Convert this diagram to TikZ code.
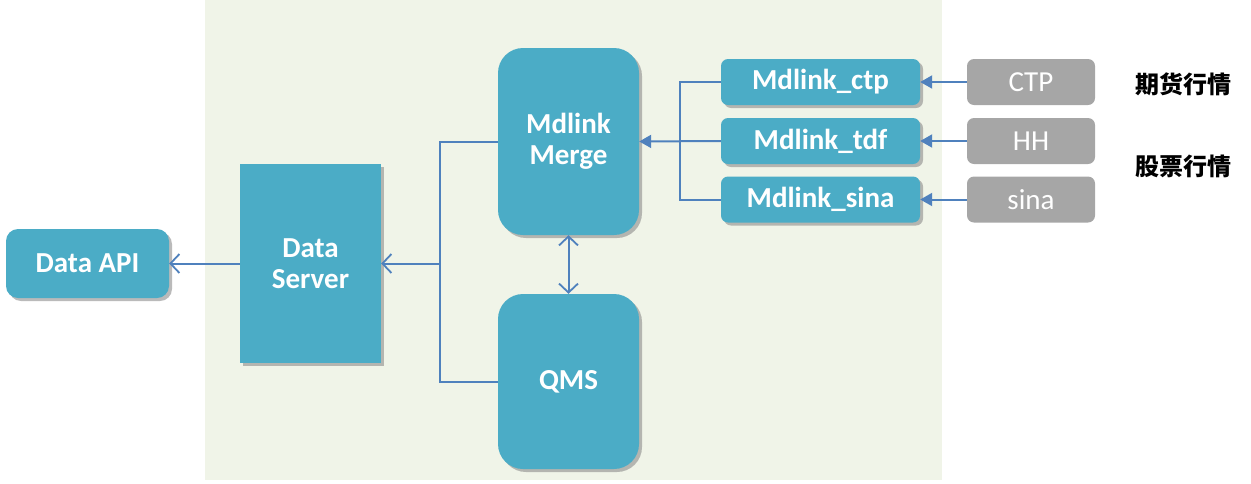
\documentclass[tikz,border=0pt]{standalone}
\usepackage{fontspec}
\setmainfont{Carlito}
\newfontfamily\cjk{Noto Sans CJK SC}
\usepackage{tikz}
\usetikzlibrary{arrows.meta,shadows}

\definecolor{boxteal}{HTML}{4BACC6}
\definecolor{linkblue}{HTML}{4F81BD}
\definecolor{srcgrey}{HTML}{A6A6A6}
\definecolor{panelbg}{HTML}{F0F4E8}

\tikzset{
	block/.style={fill=boxteal,text=white,font=\fontsize{29}{31}\selectfont\bfseries,
		align=center,inner sep=0pt,
		drop shadow={shadow xshift=3pt,shadow yshift=-3pt,fill=black!45,opacity=0.6}},
	srcbox/.style={fill=srcgrey,text=white,font=\fontsize{29}{31}\selectfont,
		rounded corners=7pt,minimum width=128pt,minimum height=46pt,inner sep=0pt},
	wire/.style={draw=linkblue,line width=2pt},
	openarrow/.style={wire,-{Straight Barb[length=9pt,width=19pt,line width=1.8pt]}},
	openboth/.style={wire,{Straight Barb[length=9pt,width=19pt,line width=1.8pt]}-{Straight Barb[length=9pt,width=19pt,line width=1.8pt]}},
	fillarrow/.style={wire,-{Triangle[length=12pt,width=13pt]}},
}

\begin{document}
\begin{tikzpicture}[x=1pt,y=-1pt]
		\useasboundingbox (0,0) rectangle (1251,483);
%		\draw[help lines,step=50] (0,0) grid (1251,483);
		\fill[panelbg] (205,0) rectangle (942,480);

		\path (87.5,263.5) coordinate (api_c);
		\path (310.5,263.5) coordinate (server_c);
		\path (568.5,141.5) coordinate (merge_c);
		\path (568.5,381.5) coordinate (qms_c);
		\path (820.5,82) coordinate (ctp_c);
		\path (820.5,141) coordinate (tdf_c);
		\path (820.5,199.5) coordinate (sina_c);
		\path (440,263.5) coordinate (bus);
		\path (680,141) coordinate (join);

		\node[block,rounded corners=12pt,minimum width=163pt,minimum height=69pt] (dataapi) at (api_c) {Data API};
		\node[block,minimum width=141pt,minimum height=199pt] (dataserver) at (server_c) {Data\\Server};
		\node[block,rounded corners=25pt,minimum width=141pt,minimum height=187pt] (merge) at (merge_c) {Mdlink\\Merge};
		\node[block,rounded corners=25pt,minimum width=141pt,minimum height=175pt] (qms) at (qms_c) {QMS};
		\node[block,rounded corners=7pt,minimum width=199pt,minimum height=46pt] (mdctp) at (ctp_c) {Mdlink\_ctp};
		\node[block,rounded corners=7pt,minimum width=199pt,minimum height=46pt] (mdtdf) at (tdf_c) {Mdlink\_tdf};
		\node[block,rounded corners=7pt,minimum width=199pt,minimum height=46pt] (mdsina) at (sina_c) {Mdlink\_sina};

		\node[srcbox] (ctp) at (1031,82) {CTP};
		\node[srcbox] (hh) at (1031,141) {HH};
		\node[srcbox] (sina) at (1031,199.5) {sina};

		\node[font=\cjk\fontsize{24}{26}\selectfont\bfseries] (futures) at (1183,84) {期货行情};
		\node[font=\cjk\fontsize{24}{26}\selectfont\bfseries] (stocks) at (1183,166) {股票行情};

		\draw[openarrow] (dataserver.west) -- (dataapi.east);
		\draw[wire] (merge.west) -| (bus) |- (qms.west);
		\draw[openarrow] (bus) -- (dataserver.east);
		\draw[openboth] (merge.south) -- (qms.north);

		\draw[wire] (mdctp.west) -| (join) |- (mdsina.west);
		\draw[fillarrow] (mdtdf.west) -- (merge.east);

		\draw[fillarrow] (ctp.west) -- (mdctp.east);
		\draw[fillarrow] (hh.west) -- (mdtdf.east);
		\draw[fillarrow] (sina.west) -- (mdsina.east);
	\end{tikzpicture}
\end{document}
